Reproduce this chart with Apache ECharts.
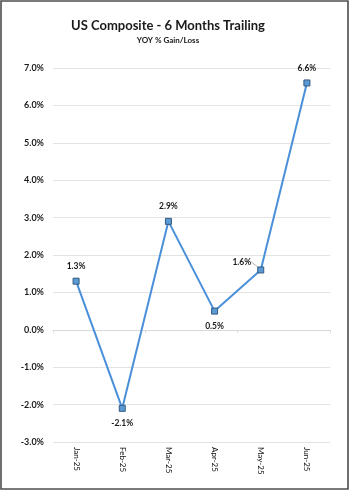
<!DOCTYPE html>
<html>
<head>
<meta charset="utf-8">
<script src="https://cdn.jsdelivr.net/npm/echarts@6/dist/echarts.min.js"></script>
<style>
  html, body { margin: 0; padding: 0; background: #fff; }
  #chart { width: 350px; height: 493px; }
</style>
</head>
<body>
<div id="chart"></div>
<script>
// Monthly YOY % change, trailing six months
const months = ['Jan-25', 'Feb-25', 'Mar-25', 'Apr-25', 'May-25', 'Jun-25'];
const yoyPct = [1.3, -2.1, 2.9, 0.5, 1.6, 6.6];
// Where each value label sits relative to its point
const labelSide = ['top', 'bottom', 'top', 'bottom', 'left', 'top'];

const yMin = -3, yMax = 7, yStep = 1;

const FONT = 'Lato, "Open Sans", sans-serif';
const TEXT = '#1a1a1a';

const chart = echarts.init(document.getElementById('chart'), null, { renderer: 'canvas' });

const points = yoyPct.map((v, i) => {
  const item = {
    value: v,
    label: { position: labelSide[i] }
  };
  if (i === 4) {
    item.label.distance = 6;
    item.labelLine = { show: true };
  }
  return item;
});

chart.setOption({
  animation: false,
  backgroundColor: '#ffffff',
  title: [
    {
      text: 'US Composite - 6 Months Trailing',
      left: 163, top: 14, textAlign: 'center',
      textStyle: { fontFamily: FONT, fontSize: 13, fontWeight: 'bold', color: TEXT }
    },
    {
      text: 'YOY % Gain/Loss',
      left: 163, top: 31, textAlign: 'center',
      textStyle: { fontFamily: FONT, fontSize: 8, fontWeight: 'bold', color: TEXT }
    }
  ],
  graphic: [{
    type: 'rect',
    shape: { x: 1, y: 1, width: 347, height: 488 },
    style: { fill: 'none', stroke: '#4d4d4d', lineWidth: 1.6 },
    silent: true
  }],
  grid: { left: 53, right: 20, top: 68, bottom: 51 },
  xAxis: [
    {
      type: 'category',
      data: months,
      boundaryGap: true,
      axisLine: { show: false, onZero: false },
      axisTick: { show: false },
      axisLabel: {
        rotate: -90, margin: 5,
        fontFamily: FONT, fontSize: 8, color: '#111'
      },
      splitLine: { show: false }
    },
    {
      type: 'category',
      data: months,
      position: 'bottom',
      boundaryGap: true,
      axisLine: { show: true, onZero: true, lineStyle: { color: '#d9d9d9', width: 1 } },
      axisTick: { show: true, length: 3, lineStyle: { color: '#d9d9d9' } },
      axisLabel: { show: false },
      splitLine: { show: false }
    }
  ],
  yAxis: {
    type: 'value',
    min: yMin, max: yMax, interval: yStep,
    axisLine: { show: false },
    axisTick: { show: false },
    axisLabel: {
      margin: 9,
      fontFamily: FONT, fontSize: 9, fontWeight: 'bold', color: TEXT,
      formatter: v => v.toFixed(1) + '%'
    },
    splitLine: { lineStyle: { color: '#e3e3e3', width: 1 } }
  },
  series: [{
    type: 'line',
    xAxisIndex: 0,
    data: points,
    symbol: 'rect',
    symbolSize: 6,
    itemStyle: { color: '#5b9bd5', borderColor: '#34597f', borderWidth: 1 },
    lineStyle: { color: '#4a8fd9', width: 2 },
    label: {
      show: true,
      distance: 7,
      fontFamily: FONT, fontSize: 8.5, fontWeight: 'bold', color: TEXT,
      formatter: p => p.value.toFixed(1) + '%'
    },
    labelLine: {
      show: false,
      smooth: 0.4,
      lineStyle: { color: '#9a9a9a', width: 0.8 }
    },
    labelLayout: p => (p.dataIndex === 4 ? { dy: -8, dx: 0 } : {})
  }]
});
</script>
</body>
</html>
